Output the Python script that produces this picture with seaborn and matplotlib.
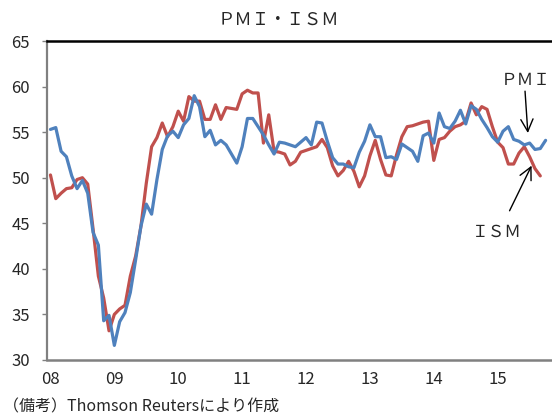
import numpy as np
import pandas as pd
import matplotlib
matplotlib.use("Agg")
import matplotlib.pyplot as plt
import seaborn as sns

# monthly values from Jan 2008
ism = [50.3, 47.7, 48.3, 48.8, 48.9, 49.8, 50.0, 49.3, 44.4, 39.2, 36.8, 33.2,
       35.0, 35.6, 36.0, 39.2, 41.4, 44.7, 49.4, 53.4, 54.4, 56.0, 54.5, 55.6,
       57.3, 56.2, 58.9, 58.4, 58.4, 56.4, 56.4, 58.0, 56.4, 57.7, 57.6, 57.5,
       59.2, 59.6, 59.3, 59.3, 53.8, 56.9, 52.9, 52.8, 52.6, 51.4, 51.8, 52.8,
       53.0, 53.2, 53.4, 54.2, 53.3, 51.3, 50.2, 50.8, 51.8, 50.7, 49.0, 50.2,
       52.4, 54.1, 52.0, 50.3, 50.2, 52.5, 54.5, 55.6, 55.7, 55.9, 56.1, 56.2,
       51.9, 54.2, 54.4, 55.1, 55.6, 55.8, 56.2, 58.2, 56.9, 57.8, 57.5, 55.6,
       53.9, 53.3, 51.5, 51.5, 52.7, 53.4, 52.3, 51.0, 50.2]

pmi = [55.3, 55.5, 52.9, 52.3, 50.2, 48.8, 49.7, 48.3, 44.0, 42.6, 34.3, 34.9,
       31.6, 34.2, 35.2, 37.4, 41.0, 44.7, 47.1, 46.0, 49.8, 53.1, 54.6, 55.1,
       54.4, 55.8, 56.5, 59.0, 57.8, 54.5, 55.2, 53.6, 54.1, 53.6, 52.6, 51.6,
       53.4, 56.5, 56.5, 55.6, 54.7, 53.6, 52.6, 53.9, 53.8, 53.6, 53.4, 53.9,
       54.4, 53.6, 56.1, 56.0, 54.0, 52.2, 51.5, 51.5, 51.2, 51.1, 52.8, 54.0,
       55.8, 54.5, 54.5, 52.2, 52.3, 52.0, 53.7, 53.3, 52.9, 51.8, 54.6, 54.9,
       53.8, 57.1, 55.6, 55.4, 56.2, 57.4, 55.9, 57.9, 57.5, 56.4, 55.5, 54.5,
       53.9, 55.1, 55.6, 54.2, 54.0, 53.6, 53.8, 53.1, 53.2, 54.1]

year_labels = ["08", "09", "10", "11", "12", "13", "14", "15"]

df_ism = pd.DataFrame({"m": np.arange(len(ism)), "v": ism})
df_pmi = pd.DataFrame({"m": np.arange(len(pmi)), "v": pmi})

sns.set_style("white")
plt.rcParams["font.family"] = ["Noto Sans CJK JP", "DejaVu Sans"]

fig = plt.figure(figsize=(5.52, 4.18), dpi=100)
ax = fig.add_axes([0.086, 0.1388, 0.914, 0.7631])

red = "#C0504D"
blue = "#4F81BD"
sns.lineplot(data=df_ism, x="m", y="v", color=red, linewidth=2.3, ax=ax)
sns.lineplot(data=df_pmi, x="m", y="v", color=blue, linewidth=2.3, ax=ax)

ax.set_xlim(-0.56, 94.2)
ax.set_ylim(30, 65)
ax.set_yticks(np.arange(30, 66, 5))
ax.set_xticks(np.arange(0, 12 * len(year_labels), 12))
ax.set_xticklabels(year_labels)
ax.set_xlabel("")
ax.set_ylabel("")

ax.tick_params(axis="y", length=3.5, width=1, color="#808080", pad=9,
               labelsize=12, left=True)
ax.tick_params(axis="x", length=0, pad=8, labelsize=12)

ax.spines["right"].set_visible(False)
ax.spines["top"].set_color("black")
ax.spines["top"].set_linewidth(1.8)
ax.spines["left"].set_color("#808080")
ax.spines["left"].set_linewidth(1.6)
ax.spines["bottom"].set_color("#808080")
ax.spines["bottom"].set_linewidth(1.8)

# annotations
ax.text(84.6, 60.7, "ＰＭＩ", fontsize=12, va="center", ha="left")
ax.annotate("", xy=(89.7, 54.6), xytext=(89.1, 59.8),
            arrowprops=dict(arrowstyle="->", color="black", lw=1,
                            mutation_scale=22))
ax.text(79.2, 44.0, "ＩＳＭ", fontsize=12, va="center", ha="left")
ax.annotate("", xy=(90.6, 51.6), xytext=(86.0, 46.1),
            arrowprops=dict(arrowstyle="->", color="black", lw=1,
                            mutation_scale=22))

fig.text(0.504, 0.952, "ＰＭＩ・ＩＳＭ", fontsize=12.5, ha="center", va="center")
fig.text(0.005, 0.026, "（備考）Thomson Reutersにより作成", fontsize=11.5,
         ha="left", va="center")

fig.savefig("out.png", dpi=100)
